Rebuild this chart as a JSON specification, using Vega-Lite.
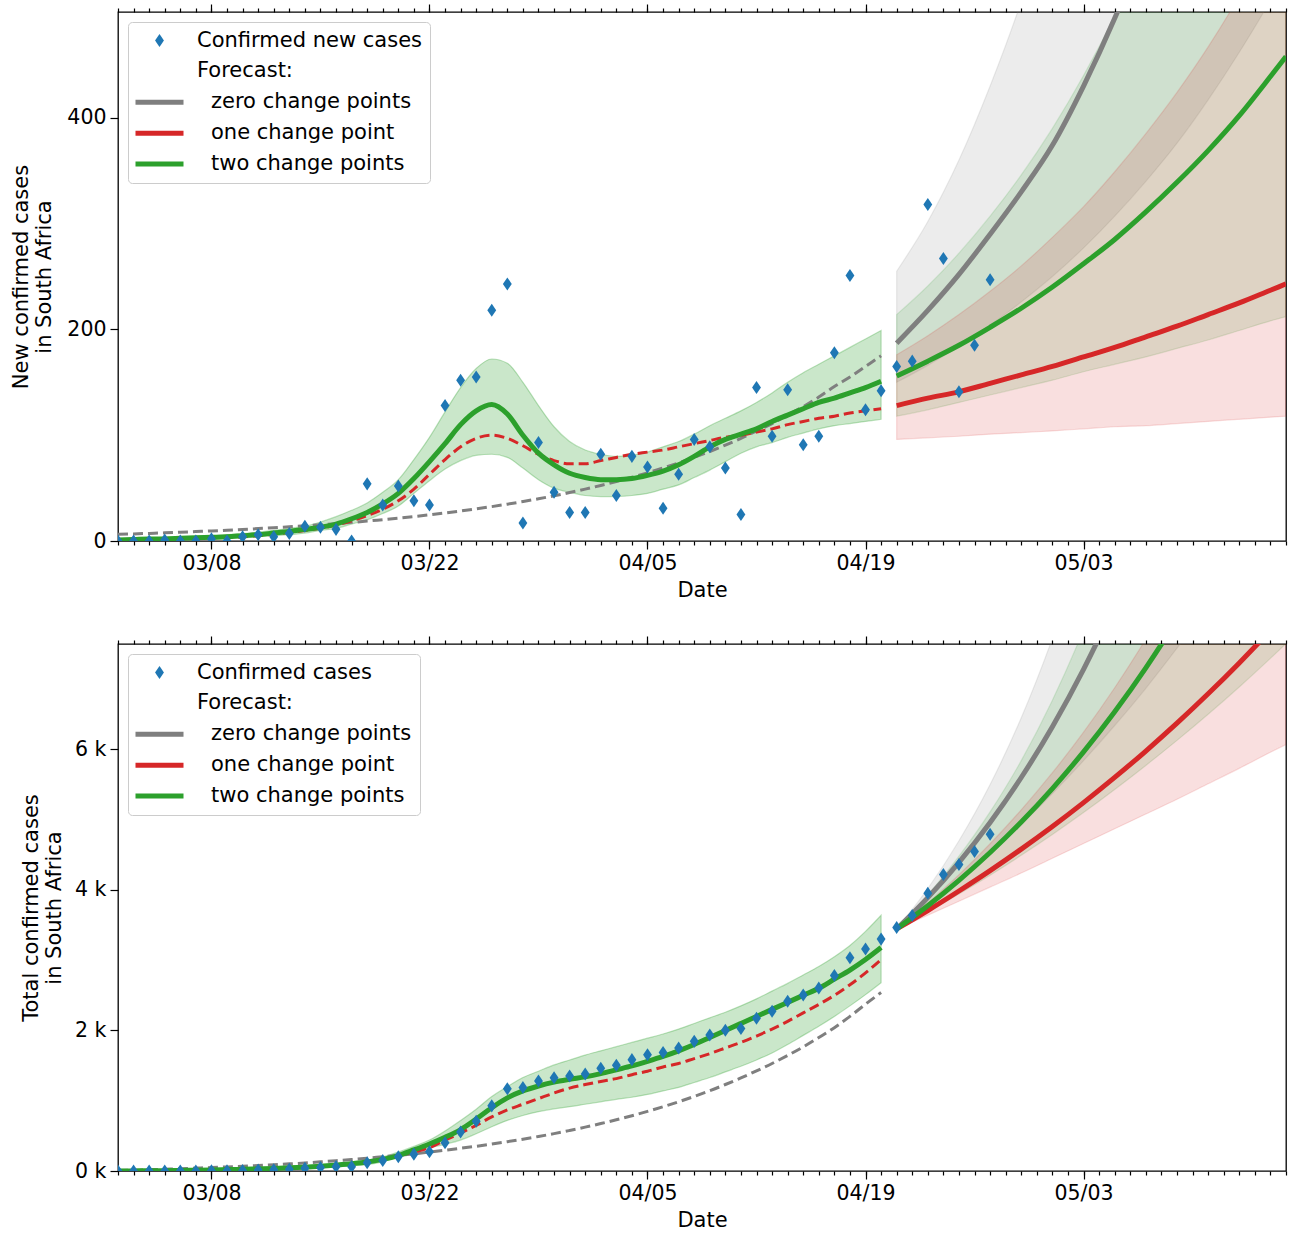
{
  "$schema": "https://vega.github.io/schema/vega-lite/v6.json",
  "padding": {"left": 10, "top": 2, "right": 5, "bottom": 5},
  "config": {
    "font": "DejaVu Sans",
    "view": {"stroke": "black", "strokeWidth": 1.3},
    "axis": {"labelFont": "DejaVu Sans", "titleFont": "DejaVu Sans", "labelFontSize": 20.5, "titleFontSize": 21, "labelColor": "black", "titleColor": "black", "tickColor": "black", "tickWidth": 1.2, "titleFontWeight": "normal", "grid": false, "domain": false},
    "legend": {"orient": "top-left", "offset": 10, "labelFont": "DejaVu Sans", "labelFontSize": 21, "labelColor": "black", "labelLimit": 600, "symbolSize": 2304, "symbolStrokeWidth": 5, "symbolOffset": 13, "labelOffset": 27, "rowPadding": 8.9, "padding": 8, "fillColor": "rgba(255,255,255,0.8)", "strokeColor": "#cccccc", "cornerRadius": 4, "symbolType": "stroke"}
  },
  "datasets": {
    "obsT": [
      {"date":"2020-03-02","v":0},{"date":"2020-03-03","v":0},{"date":"2020-03-04","v":0},{"date":"2020-03-05","v":1},{"date":"2020-03-06","v":0},{"date":"2020-03-07","v":0},{"date":"2020-03-08","v":2},{"date":"2020-03-09","v":0},{"date":"2020-03-10","v":4},{"date":"2020-03-11","v":6},{"date":"2020-03-12","v":4},{"date":"2020-03-13","v":7},{"date":"2020-03-14","v":14},{"date":"2020-03-15","v":13},{"date":"2020-03-16","v":11},{"date":"2020-03-17","v":0},{"date":"2020-03-18","v":54},{"date":"2020-03-19","v":34},{"date":"2020-03-20","v":52},{"date":"2020-03-21","v":38},{"date":"2020-03-22","v":34},{"date":"2020-03-23","v":128},{"date":"2020-03-24","v":152},{"date":"2020-03-25","v":155},{"date":"2020-03-26","v":218},{"date":"2020-03-27","v":243},{"date":"2020-03-28","v":17},{"date":"2020-03-29","v":93},{"date":"2020-03-30","v":46},{"date":"2020-03-31","v":27},{"date":"2020-04-01","v":27},{"date":"2020-04-02","v":82},{"date":"2020-04-03","v":43},{"date":"2020-04-04","v":80},{"date":"2020-04-05","v":70},{"date":"2020-04-06","v":31},{"date":"2020-04-07","v":63},{"date":"2020-04-08","v":96},{"date":"2020-04-09","v":89},{"date":"2020-04-10","v":69},{"date":"2020-04-11","v":25},{"date":"2020-04-12","v":145},{"date":"2020-04-13","v":99},{"date":"2020-04-14","v":143},{"date":"2020-04-15","v":91},{"date":"2020-04-16","v":99},{"date":"2020-04-17","v":178},{"date":"2020-04-18","v":251},{"date":"2020-04-19","v":124},{"date":"2020-04-20","v":142},{"date":"2020-04-21","v":165},{"date":"2020-04-22","v":170},{"date":"2020-04-23","v":318},{"date":"2020-04-24","v":267},{"date":"2020-04-25","v":141},{"date":"2020-04-26","v":185},{"date":"2020-04-27","v":247}
    ],
    "obsB": [
      {"date":"2020-03-02","v":0},{"date":"2020-03-03","v":0},{"date":"2020-03-04","v":0},{"date":"2020-03-05","v":1},{"date":"2020-03-06","v":1},{"date":"2020-03-07","v":1},{"date":"2020-03-08","v":3},{"date":"2020-03-09","v":3},{"date":"2020-03-10","v":7},{"date":"2020-03-11","v":13},{"date":"2020-03-12","v":17},{"date":"2020-03-13","v":24},{"date":"2020-03-14","v":38},{"date":"2020-03-15","v":51},{"date":"2020-03-16","v":62},{"date":"2020-03-17","v":62},{"date":"2020-03-18","v":116},{"date":"2020-03-19","v":150},{"date":"2020-03-20","v":202},{"date":"2020-03-21","v":240},{"date":"2020-03-22","v":274},{"date":"2020-03-23","v":402},{"date":"2020-03-24","v":554},{"date":"2020-03-25","v":709},{"date":"2020-03-26","v":927},{"date":"2020-03-27","v":1170},{"date":"2020-03-28","v":1187},{"date":"2020-03-29","v":1280},{"date":"2020-03-30","v":1326},{"date":"2020-03-31","v":1353},{"date":"2020-04-01","v":1380},{"date":"2020-04-02","v":1462},{"date":"2020-04-03","v":1505},{"date":"2020-04-04","v":1585},{"date":"2020-04-05","v":1655},{"date":"2020-04-06","v":1686},{"date":"2020-04-07","v":1749},{"date":"2020-04-08","v":1845},{"date":"2020-04-09","v":1934},{"date":"2020-04-10","v":2003},{"date":"2020-04-11","v":2028},{"date":"2020-04-12","v":2173},{"date":"2020-04-13","v":2272},{"date":"2020-04-14","v":2415},{"date":"2020-04-15","v":2506},{"date":"2020-04-16","v":2605},{"date":"2020-04-17","v":2783},{"date":"2020-04-18","v":3034},{"date":"2020-04-19","v":3158},{"date":"2020-04-20","v":3300},{"date":"2020-04-21","v":3465},{"date":"2020-04-22","v":3635},{"date":"2020-04-23","v":3953},{"date":"2020-04-24","v":4220},{"date":"2020-04-25","v":4361},{"date":"2020-04-26","v":4546},{"date":"2020-04-27","v":4793}
    ],
    "fitT": [
      {"date":"2020-03-02","g2":1,"lo":0,"hi":2,"r1":1,"g0":6.3},
      {"date":"2020-03-03","g2":1.5,"lo":0.5,"hi":2.5,"r1":1.3,"g0":6.7},
      {"date":"2020-03-04","g2":2,"lo":1,"hi":3,"r1":1.6,"g0":7.2},
      {"date":"2020-03-05","g2":2,"lo":1,"hi":3.5,"r1":1.9,"g0":7.7},
      {"date":"2020-03-06","g2":2.5,"lo":1.5,"hi":4,"r1":2.2,"g0":8.3},
      {"date":"2020-03-07","g2":3,"lo":1.5,"hi":4.5,"r1":2.5,"g0":8.9},
      {"date":"2020-03-08","g2":3.5,"lo":2,"hi":5,"r1":3,"g0":9.5},
      {"date":"2020-03-09","g2":4,"lo":2.5,"hi":6,"r1":3.5,"g0":10.2},
      {"date":"2020-03-10","g2":5,"lo":3,"hi":7,"r1":4,"g0":10.9},
      {"date":"2020-03-11","g2":6,"lo":4,"hi":8.5,"r1":5,"g0":11.7},
      {"date":"2020-03-12","g2":7.5,"lo":5,"hi":10,"r1":6.5,"g0":12.5},
      {"date":"2020-03-13","g2":9,"lo":6,"hi":12,"r1":8,"g0":13.4},
      {"date":"2020-03-14","g2":11,"lo":7.5,"hi":14,"r1":10,"g0":14.3},
      {"date":"2020-03-15","g2":13,"lo":10,"hi":18,"r1":12,"g0":15.3},
      {"date":"2020-03-16","g2":16,"lo":12,"hi":23,"r1":15,"g0":16.4},
      {"date":"2020-03-17","g2":21,"lo":16,"hi":29,"r1":19,"g0":17.6},
      {"date":"2020-03-18","g2":27,"lo":20,"hi":36,"r1":24,"g0":18.8},
      {"date":"2020-03-19","g2":35,"lo":26,"hi":46,"r1":30,"g0":20.2},
      {"date":"2020-03-20","g2":45,"lo":33,"hi":58,"r1":38,"g0":21.6},
      {"date":"2020-03-21","g2":59,"lo":45,"hi":77,"r1":49,"g0":23.1},
      {"date":"2020-03-22","g2":75,"lo":57,"hi":98,"r1":63,"g0":24.7},
      {"date":"2020-03-23","g2":92,"lo":68,"hi":122,"r1":77,"g0":26.5},
      {"date":"2020-03-24","g2":110,"lo":76,"hi":145,"r1":89,"g0":28.4},
      {"date":"2020-03-25","g2":123,"lo":81,"hi":163,"r1":97,"g0":30.4},
      {"date":"2020-03-26","g2":129,"lo":82,"hi":172,"r1":100,"g0":32.5},
      {"date":"2020-03-27","g2":120,"lo":79,"hi":168,"r1":97,"g0":34.8},
      {"date":"2020-03-28","g2":100,"lo":69,"hi":150,"r1":90,"g0":37.3},
      {"date":"2020-03-29","g2":83,"lo":58,"hi":128,"r1":82,"g0":39.9},
      {"date":"2020-03-30","g2":72,"lo":50,"hi":108,"r1":76,"g0":42.7},
      {"date":"2020-03-31","g2":64,"lo":46,"hi":94,"r1":73,"g0":45.8},
      {"date":"2020-04-01","g2":60,"lo":43,"hi":86,"r1":73,"g0":49},
      {"date":"2020-04-02","g2":58,"lo":42,"hi":82,"r1":76,"g0":52.5},
      {"date":"2020-04-03","g2":58,"lo":42,"hi":80,"r1":79,"g0":56.2},
      {"date":"2020-04-04","g2":59,"lo":43,"hi":81,"r1":82,"g0":60.2},
      {"date":"2020-04-05","g2":62,"lo":45,"hi":84,"r1":84,"g0":64.4},
      {"date":"2020-04-06","g2":66,"lo":49,"hi":89,"r1":86,"g0":69},
      {"date":"2020-04-07","g2":72,"lo":53,"hi":94,"r1":89,"g0":73.8},
      {"date":"2020-04-08","g2":80,"lo":60,"hi":101,"r1":92,"g0":79},
      {"date":"2020-04-09","g2":89,"lo":67,"hi":109,"r1":95,"g0":84.6},
      {"date":"2020-04-10","g2":96,"lo":75,"hi":116,"r1":98,"g0":90.6},
      {"date":"2020-04-11","g2":101,"lo":83,"hi":123,"r1":100,"g0":97},
      {"date":"2020-04-12","g2":106,"lo":89,"hi":131,"r1":103,"g0":104},
      {"date":"2020-04-13","g2":113,"lo":93,"hi":140,"r1":106,"g0":111},
      {"date":"2020-04-14","g2":119,"lo":98,"hi":150,"r1":110,"g0":119},
      {"date":"2020-04-15","g2":125,"lo":102,"hi":159,"r1":113,"g0":127},
      {"date":"2020-04-16","g2":131,"lo":106,"hi":167,"r1":116,"g0":136},
      {"date":"2020-04-17","g2":135,"lo":109,"hi":175,"r1":118,"g0":146},
      {"date":"2020-04-18","g2":140,"lo":111,"hi":183,"r1":121,"g0":155},
      {"date":"2020-04-19","g2":145,"lo":113,"hi":191,"r1":123,"g0":165},
      {"date":"2020-04-20","g2":151,"lo":115,"hi":199,"r1":125,"g0":175}
    ],
    "fitB": [
      {"date":"2020-03-02","g2":0,"lo":0,"hi":2,"r1":0,"g0":6},
      {"date":"2020-03-03","g2":1,"lo":0,"hi":4,"r1":1,"g0":12},
      {"date":"2020-03-04","g2":3,"lo":1,"hi":7,"r1":2,"g0":19},
      {"date":"2020-03-05","g2":5,"lo":2,"hi":10,"r1":3,"g0":26},
      {"date":"2020-03-06","g2":8,"lo":3,"hi":14,"r1":5,"g0":33},
      {"date":"2020-03-07","g2":11,"lo":5,"hi":18,"r1":7,"g0":41},
      {"date":"2020-03-08","g2":15,"lo":7,"hi":23,"r1":10,"g0":49},
      {"date":"2020-03-09","g2":20,"lo":10,"hi":29,"r1":14,"g0":58},
      {"date":"2020-03-10","g2":25,"lo":13,"hi":36,"r1":19,"g0":67},
      {"date":"2020-03-11","g2":31,"lo":18,"hi":43,"r1":26,"g0":78},
      {"date":"2020-03-12","g2":37,"lo":24,"hi":52,"r1":34,"g0":90},
      {"date":"2020-03-13","g2":45,"lo":30,"hi":62,"r1":43,"g0":102},
      {"date":"2020-03-14","g2":55,"lo":38,"hi":75,"r1":53,"g0":114},
      {"date":"2020-03-15","g2":68,"lo":48,"hi":88,"r1":67,"g0":130},
      {"date":"2020-03-16","g2":85,"lo":60,"hi":105,"r1":83,"g0":146},
      {"date":"2020-03-17","g2":104,"lo":74,"hi":126,"r1":104,"g0":164},
      {"date":"2020-03-18","g2":128,"lo":90,"hi":150,"r1":130,"g0":183},
      {"date":"2020-03-19","g2":165,"lo":130,"hi":200,"r1":170,"g0":203},
      {"date":"2020-03-20","g2":220,"lo":200,"hi":270,"r1":220,"g0":223},
      {"date":"2020-03-21","g2":300,"lo":260,"hi":350,"r1":270,"g0":245},
      {"date":"2020-03-22","g2":385,"lo":330,"hi":440,"r1":330,"g0":269},
      {"date":"2020-03-23","g2":480,"lo":380,"hi":570,"r1":440,"g0":295},
      {"date":"2020-03-24","g2":590,"lo":440,"hi":720,"r1":540,"g0":323},
      {"date":"2020-03-25","g2":740,"lo":530,"hi":880,"r1":650,"g0":352},
      {"date":"2020-03-26","g2":900,"lo":630,"hi":1060,"r1":770,"g0":383},
      {"date":"2020-03-27","g2":1040,"lo":720,"hi":1200,"r1":870,"g0":417},
      {"date":"2020-03-28","g2":1140,"lo":790,"hi":1330,"r1":950,"g0":453},
      {"date":"2020-03-29","g2":1210,"lo":845,"hi":1420,"r1":1030,"g0":491},
      {"date":"2020-03-30","g2":1265,"lo":885,"hi":1510,"r1":1110,"g0":532},
      {"date":"2020-03-31","g2":1305,"lo":915,"hi":1580,"r1":1180,"g0":577},
      {"date":"2020-04-01","g2":1340,"lo":950,"hi":1650,"r1":1230,"g0":624},
      {"date":"2020-04-02","g2":1385,"lo":985,"hi":1710,"r1":1275,"g0":675},
      {"date":"2020-04-03","g2":1440,"lo":1020,"hi":1770,"r1":1315,"g0":729},
      {"date":"2020-04-04","g2":1495,"lo":1050,"hi":1830,"r1":1370,"g0":786},
      {"date":"2020-04-05","g2":1560,"lo":1090,"hi":1890,"r1":1420,"g0":848},
      {"date":"2020-04-06","g2":1630,"lo":1140,"hi":1950,"r1":1480,"g0":914},
      {"date":"2020-04-07","g2":1710,"lo":1190,"hi":2020,"r1":1530,"g0":985},
      {"date":"2020-04-08","g2":1800,"lo":1260,"hi":2100,"r1":1600,"g0":1061},
      {"date":"2020-04-09","g2":1900,"lo":1330,"hi":2180,"r1":1670,"g0":1142},
      {"date":"2020-04-10","g2":2000,"lo":1410,"hi":2260,"r1":1750,"g0":1231},
      {"date":"2020-04-11","g2":2100,"lo":1490,"hi":2350,"r1":1830,"g0":1325},
      {"date":"2020-04-12","g2":2200,"lo":1580,"hi":2450,"r1":1920,"g0":1425},
      {"date":"2020-04-13","g2":2300,"lo":1680,"hi":2560,"r1":2020,"g0":1530},
      {"date":"2020-04-14","g2":2400,"lo":1800,"hi":2670,"r1":2130,"g0":1645},
      {"date":"2020-04-15","g2":2500,"lo":1930,"hi":2790,"r1":2250,"g0":1766},
      {"date":"2020-04-16","g2":2600,"lo":2060,"hi":2910,"r1":2370,"g0":1900},
      {"date":"2020-04-17","g2":2730,"lo":2200,"hi":3050,"r1":2500,"g0":2040},
      {"date":"2020-04-18","g2":2860,"lo":2350,"hi":3210,"r1":2650,"g0":2200},
      {"date":"2020-04-19","g2":3010,"lo":2510,"hi":3410,"r1":2820,"g0":2374},
      {"date":"2020-04-20","g2":3180,"lo":2680,"hi":3640,"r1":3010,"g0":2540}
    ],
    "fcT": [
      {"date":"2020-04-21","g0":187,"g0lo":150,"g0hi":255,"r1":128,"r1lo":96,"r1hi":176,"g2":156,"g2lo":118,"g2hi":214},
      {"date":"2020-04-23","g0":218,"g0lo":166,"g0hi":302,"r1":135,"r1lo":97.5,"r1hi":194,"g2":170,"g2lo":124,"g2hi":241},
      {"date":"2020-04-25","g0":252,"g0lo":184,"g0hi":360,"r1":141,"r1lo":99,"r1hi":214,"g2":185,"g2lo":131,"g2hi":272},
      {"date":"2020-04-27","g0":290,"g0lo":204,"g0hi":430,"r1":149,"r1lo":101,"r1hi":236,"g2":202,"g2lo":138,"g2hi":307},
      {"date":"2020-04-29","g0":330,"g0lo":226,"g0hi":510,"r1":157,"r1lo":102.5,"r1hi":260,"g2":220,"g2lo":145,"g2hi":346},
      {"date":"2020-05-01","g0":374,"g0lo":250,"g0hi":604,"r1":165,"r1lo":104,"r1hi":287,"g2":240,"g2lo":152,"g2hi":390},
      {"date":"2020-05-03","g0":430,"g0lo":277,"g0hi":715,"r1":174,"r1lo":106,"r1hi":316,"g2":262,"g2lo":160,"g2hi":440},
      {"date":"2020-05-05","g0":494,"g0lo":307,"g0hi":846,"r1":183,"r1lo":108,"r1hi":349,"g2":285,"g2lo":167,"g2hi":496},
      {"date":"2020-05-07","g0":567,"g0lo":340,"g0hi":1000,"r1":193,"r1lo":109,"r1hi":385,"g2":311,"g2lo":174,"g2hi":559},
      {"date":"2020-05-09","g0":651,"g0lo":376,"g0hi":1185,"r1":203,"r1lo":111,"r1hi":424,"g2":339,"g2lo":182,"g2hi":631},
      {"date":"2020-05-11","g0":748,"g0lo":417,"g0hi":1400,"r1":214,"r1lo":113,"r1hi":467,"g2":369,"g2lo":190,"g2hi":711},
      {"date":"2020-05-13","g0":859,"g0lo":462,"g0hi":1660,"r1":225,"r1lo":115,"r1hi":515,"g2":402,"g2lo":199,"g2hi":802},
      {"date":"2020-05-15","g0":987,"g0lo":511,"g0hi":1960,"r1":237,"r1lo":117,"r1hi":568,"g2":439,"g2lo":208,"g2hi":904},
      {"date":"2020-05-16","g0":1058,"g0lo":538,"g0hi":2130,"r1":243,"r1lo":118,"r1hi":596,"g2":458,"g2lo":212,"g2hi":960}
    ],
    "fcB": [
      {"date":"2020-04-21","g0":3445,"g0lo":3445,"g0hi":3445,"r1":3445,"r1lo":3445,"r1hi":3445,"g2":3445,"g2lo":3445,"g2hi":3445},
      {"date":"2020-04-23","g0":3890,"g0lo":3780,"g0hi":4020,"r1":3707,"r1lo":3640,"r1hi":3813,"g2":3775,"g2lo":3687,"g2hi":3930},
      {"date":"2020-04-25","g0":4392,"g0lo":4140,"g0hi":4700,"r1":3985,"r1lo":3840,"r1hi":4216,"g2":4137,"g2lo":3942,"g2hi":4480},
      {"date":"2020-04-27","g0":4960,"g0lo":4520,"g0hi":5500,"r1":4275,"r1lo":4040,"r1hi":4657,"g2":4533,"g2lo":4210,"g2hi":5110},
      {"date":"2020-04-29","g0":5600,"g0lo":4930,"g0hi":6450,"r1":4581,"r1lo":4240,"r1hi":5140,"g2":4967,"g2lo":4493,"g2hi":5840},
      {"date":"2020-05-01","g0":6323,"g0lo":5370,"g0hi":7580,"r1":4903,"r1lo":4450,"r1hi":5668,"g2":5443,"g2lo":4790,"g2hi":6700},
      {"date":"2020-05-03","g0":7140,"g0lo":5840,"g0hi":8900,"r1":5243,"r1lo":4660,"r1hi":6245,"g2":5964,"g2lo":5102,"g2hi":7700},
      {"date":"2020-05-05","g0":8062,"g0lo":6340,"g0hi":10450,"r1":5601,"r1lo":4870,"r1hi":6877,"g2":6535,"g2lo":5430,"g2hi":8850},
      {"date":"2020-05-07","g0":9103,"g0lo":6870,"g0hi":12250,"r1":5977,"r1lo":5080,"r1hi":7569,"g2":7161,"g2lo":5772,"g2hi":10150},
      {"date":"2020-05-09","g0":10280,"g0lo":7440,"g0hi":14400,"r1":6373,"r1lo":5290,"r1hi":8325,"g2":7847,"g2lo":6128,"g2hi":11650},
      {"date":"2020-05-11","g0":11600,"g0lo":8040,"g0hi":16900,"r1":6791,"r1lo":5510,"r1hi":9154,"g2":8600,"g2lo":6500,"g2hi":13400},
      {"date":"2020-05-13","g0":13100,"g0lo":8680,"g0hi":19800,"r1":7231,"r1lo":5730,"r1hi":10059,"g2":9420,"g2lo":6889,"g2hi":15400},
      {"date":"2020-05-15","g0":14800,"g0lo":9360,"g0hi":23300,"r1":7695,"r1lo":5960,"r1hi":11051,"g2":10320,"g2lo":7296,"g2hi":17700},
      {"date":"2020-05-16","g0":15700,"g0lo":9720,"g0hi":25200,"r1":7936,"r1lo":6070,"r1hi":11581,"g2":10800,"g2lo":7506,"g2hi":19000}
    ]
  },
  "spacing": 32,
  "resolve": {"scale": {"color": "independent"}, "legend": {"color": "independent"}},
  "vconcat": [
    {
      "width": 1168, "height": 529,
      "resolve": {"axis": {"x": "independent", "y": "independent"}},
      "layer": [
        {"data": {"name": "fitT"}, "mark": {"type": "area", "clip": true, "interpolate": "monotone", "fill": "#2ca02c", "fillOpacity": 0.25, "stroke": "#2ca02c", "strokeOpacity": 0.3, "strokeWidth": 1.2},
         "encoding": {
          "x": {"field": "date", "type": "temporal", "scale": {"type": "utc", "domain": [{"year":2020,"month":3,"date":2,"utc":true},{"year":2020,"month":5,"date":16,"utc":true}]}, "axis": {"orient": "bottom", "tickCount": {"interval": "day", "step": 1}, "labels": false, "tickSize": 4, "title": null}},
          "y": {"field": "lo", "type": "quantitative", "scale": {"domain": [0, 500], "nice": false}, "axis": {"orient": "left", "values": [0, 200, 400], "tickSize": 8, "labelPadding": 4, "title": ["New confirmed cases", "in South Africa"], "titlePadding": 12}},
          "y2": {"field": "hi"}}},
        {"data": {"name": "fcT"}, "mark": {"type": "area", "clip": true, "interpolate": "monotone", "fill": "#7f7f7f", "fillOpacity": 0.15, "stroke": "#7f7f7f", "strokeOpacity": 0.15, "strokeWidth": 1.2},
         "encoding": {
          "x": {"field": "date", "type": "temporal", "axis": {"orient": "top", "tickCount": {"interval": "day", "step": 1}, "labels": false, "tickSize": 4, "title": null}},
          "y": {"field": "g0lo", "type": "quantitative", "axis": null},
          "y2": {"field": "g0hi"}}},
        {"data": {"name": "fcT"}, "mark": {"type": "area", "clip": true, "interpolate": "monotone", "fill": "#2ca02c", "fillOpacity": 0.15, "stroke": "#2ca02c", "strokeOpacity": 0.15, "strokeWidth": 1.2},
         "encoding": {
          "x": {"field": "date", "type": "temporal", "axis": {"orient": "bottom", "values": [{"year":2020,"month":3,"date":8,"utc":true},{"year":2020,"month":3,"date":22,"utc":true},{"year":2020,"month":4,"date":5,"utc":true},{"year":2020,"month":4,"date":19,"utc":true},{"year":2020,"month":5,"date":3,"utc":true}], "format": "%m/%d", "tickSize": 8, "labelPadding": 4, "title": "Date", "titlePadding": 6}},
          "y": {"field": "g2lo", "type": "quantitative", "axis": null},
          "y2": {"field": "g2hi"}}},
        {"data": {"name": "fcT"}, "mark": {"type": "area", "clip": true, "interpolate": "monotone", "fill": "#d62728", "fillOpacity": 0.15, "stroke": "#d62728", "strokeOpacity": 0.15, "strokeWidth": 1.2},
         "encoding": {
          "x": {"field": "date", "type": "temporal", "axis": {"orient": "top", "values": [{"year":2020,"month":3,"date":8,"utc":true},{"year":2020,"month":3,"date":22,"utc":true},{"year":2020,"month":4,"date":5,"utc":true},{"year":2020,"month":4,"date":19,"utc":true},{"year":2020,"month":5,"date":3,"utc":true}], "labels": false, "tickSize": 8, "title": null}},
          "y": {"field": "r1lo", "type": "quantitative", "axis": null},
          "y2": {"field": "r1hi"}}},
        {"data": {"name": "fitT"}, "mark": {"type": "line", "clip": true, "interpolate": "monotone", "color": "#7f7f7f", "strokeWidth": 3, "strokeDash": [10, 5]},
         "encoding": {"x": {"field": "date", "type": "temporal", "axis": null}, "y": {"field": "g0", "type": "quantitative", "axis": null}}},
        {"data": {"name": "fitT"}, "mark": {"type": "line", "clip": true, "interpolate": "monotone", "color": "#d62728", "strokeWidth": 3, "strokeDash": [10, 5]},
         "encoding": {"x": {"field": "date", "type": "temporal", "axis": null}, "y": {"field": "r1", "type": "quantitative", "axis": null}}},
        {"data": {"name": "fitT"}, "mark": {"type": "line", "clip": true, "interpolate": "monotone", "color": "#2ca02c", "strokeWidth": 5},
         "encoding": {"x": {"field": "date", "type": "temporal", "axis": null}, "y": {"field": "g2", "type": "quantitative", "axis": null}}},
        {"data": {"name": "fcT"}, "mark": {"type": "line", "clip": true, "interpolate": "monotone", "strokeWidth": 5},
         "encoding": {"x": {"field": "date", "type": "temporal", "axis": null}, "y": {"field": "g0", "type": "quantitative", "axis": null},
          "color": {"datum": "zero change points", "type": "nominal", "scale": {"domain": ["Confirmed new cases", "Forecast:", "zero change points", "one change point", "two change points"], "range": ["#1f77b4", "rgba(0,0,0,0)", "#7f7f7f", "#d62728", "#2ca02c"]},
            "legend": {"title": null, "encode": {"labels": {"update": {"dx": {"signal": "datum.index >= 2 ? 14 : 0"}}}, "symbols": {"update": {"shape": {"signal": "datum.index === 0 ? 'M0,-1L0.68,0L0,1L-0.68,0Z' : 'stroke'"}, "size": {"signal": "datum.index === 0 ? 170 : 2304"}, "fill": {"signal": "datum.index === 0 ? '#1f77b4' : 'rgba(0,0,0,0)'"}, "stroke": {"signal": "['#1f77b4','rgba(0,0,0,0)','#7f7f7f','#d62728','#2ca02c'][datum.index]"}, "strokeWidth": {"signal": "datum.index === 0 ? 0 : 5"}, "opacity": {"value": 1}, "fillOpacity": {"value": 1}, "strokeOpacity": {"value": 1}}}}}}}},
        {"data": {"name": "fcT"}, "mark": {"type": "line", "clip": true, "interpolate": "monotone", "strokeWidth": 5},
         "encoding": {"x": {"field": "date", "type": "temporal", "axis": null}, "y": {"field": "r1", "type": "quantitative", "axis": null},
          "color": {"datum": "one change point", "type": "nominal", "scale": {"domain": ["Confirmed new cases", "Forecast:", "zero change points", "one change point", "two change points"], "range": ["#1f77b4", "rgba(0,0,0,0)", "#7f7f7f", "#d62728", "#2ca02c"]},
            "legend": {"title": null, "encode": {"labels": {"update": {"dx": {"signal": "datum.index >= 2 ? 14 : 0"}}}, "symbols": {"update": {"shape": {"signal": "datum.index === 0 ? 'M0,-1L0.68,0L0,1L-0.68,0Z' : 'stroke'"}, "size": {"signal": "datum.index === 0 ? 170 : 2304"}, "fill": {"signal": "datum.index === 0 ? '#1f77b4' : 'rgba(0,0,0,0)'"}, "stroke": {"signal": "['#1f77b4','rgba(0,0,0,0)','#7f7f7f','#d62728','#2ca02c'][datum.index]"}, "strokeWidth": {"signal": "datum.index === 0 ? 0 : 5"}, "opacity": {"value": 1}, "fillOpacity": {"value": 1}, "strokeOpacity": {"value": 1}}}}}}}},
        {"data": {"name": "fcT"}, "mark": {"type": "line", "clip": true, "interpolate": "monotone", "strokeWidth": 5},
         "encoding": {"x": {"field": "date", "type": "temporal", "axis": null}, "y": {"field": "g2", "type": "quantitative", "axis": null},
          "color": {"datum": "two change points", "type": "nominal", "scale": {"domain": ["Confirmed new cases", "Forecast:", "zero change points", "one change point", "two change points"], "range": ["#1f77b4", "rgba(0,0,0,0)", "#7f7f7f", "#d62728", "#2ca02c"]},
            "legend": {"title": null, "encode": {"labels": {"update": {"dx": {"signal": "datum.index >= 2 ? 14 : 0"}}}, "symbols": {"update": {"shape": {"signal": "datum.index === 0 ? 'M0,-1L0.68,0L0,1L-0.68,0Z' : 'stroke'"}, "size": {"signal": "datum.index === 0 ? 170 : 2304"}, "fill": {"signal": "datum.index === 0 ? '#1f77b4' : 'rgba(0,0,0,0)'"}, "stroke": {"signal": "['#1f77b4','rgba(0,0,0,0)','#7f7f7f','#d62728','#2ca02c'][datum.index]"}, "strokeWidth": {"signal": "datum.index === 0 ? 0 : 5"}, "opacity": {"value": 1}, "fillOpacity": {"value": 1}, "strokeOpacity": {"value": 1}}}}}}}},
        {"data": {"name": "obsT"}, "mark": {"type": "point", "clip": true, "filled": true, "opacity": 1, "size": 170, "shape": "M0,-1L0.68,0L0,1L-0.68,0Z"},
         "encoding": {"x": {"field": "date", "type": "temporal", "axis": null}, "y": {"field": "v", "type": "quantitative", "axis": null},
          "color": {"datum": "Confirmed new cases", "type": "nominal", "scale": {"domain": ["Confirmed new cases", "Forecast:", "zero change points", "one change point", "two change points"], "range": ["#1f77b4", "rgba(0,0,0,0)", "#7f7f7f", "#d62728", "#2ca02c"]},
            "legend": {"title": null, "encode": {"labels": {"update": {"dx": {"signal": "datum.index >= 2 ? 14 : 0"}}}, "symbols": {"update": {"shape": {"signal": "datum.index === 0 ? 'M0,-1L0.68,0L0,1L-0.68,0Z' : 'stroke'"}, "size": {"signal": "datum.index === 0 ? 170 : 2304"}, "fill": {"signal": "datum.index === 0 ? '#1f77b4' : 'rgba(0,0,0,0)'"}, "stroke": {"signal": "['#1f77b4','rgba(0,0,0,0)','#7f7f7f','#d62728','#2ca02c'][datum.index]"}, "strokeWidth": {"signal": "datum.index === 0 ? 0 : 5"}, "opacity": {"value": 1}, "fillOpacity": {"value": 1}, "strokeOpacity": {"value": 1}}}}}}}}
      ]
    },
    {
      "width": 1168, "height": 527,
      "resolve": {"axis": {"x": "independent", "y": "independent"}},
      "layer": [
        {"data": {"name": "fitB"}, "mark": {"type": "area", "clip": true, "interpolate": "monotone", "fill": "#2ca02c", "fillOpacity": 0.25, "stroke": "#2ca02c", "strokeOpacity": 0.3, "strokeWidth": 1.2},
         "encoding": {
          "x": {"field": "date", "type": "temporal", "scale": {"type": "utc", "domain": [{"year":2020,"month":3,"date":2,"utc":true},{"year":2020,"month":5,"date":16,"utc":true}]}, "axis": {"orient": "bottom", "tickCount": {"interval": "day", "step": 1}, "labels": false, "tickSize": 4, "title": null}},
          "y": {"field": "lo", "type": "quantitative", "scale": {"domain": [0, 7500], "nice": false}, "axis": {"orient": "left", "values": [0, 2000, 4000, 6000], "labelExpr": "format(datum.value / 1000, 'd') + ' k'", "tickSize": 8, "labelPadding": 4, "title": ["Total confirmed cases", "in South Africa"], "titlePadding": 10}},
          "y2": {"field": "hi"}}},
        {"data": {"name": "fcB"}, "mark": {"type": "area", "clip": true, "interpolate": "monotone", "fill": "#7f7f7f", "fillOpacity": 0.15, "stroke": "#7f7f7f", "strokeOpacity": 0.15, "strokeWidth": 1.2},
         "encoding": {
          "x": {"field": "date", "type": "temporal", "axis": {"orient": "top", "tickCount": {"interval": "day", "step": 1}, "labels": false, "tickSize": 4, "title": null}},
          "y": {"field": "g0lo", "type": "quantitative", "axis": null},
          "y2": {"field": "g0hi"}}},
        {"data": {"name": "fcB"}, "mark": {"type": "area", "clip": true, "interpolate": "monotone", "fill": "#2ca02c", "fillOpacity": 0.15, "stroke": "#2ca02c", "strokeOpacity": 0.15, "strokeWidth": 1.2},
         "encoding": {
          "x": {"field": "date", "type": "temporal", "axis": {"orient": "bottom", "values": [{"year":2020,"month":3,"date":8,"utc":true},{"year":2020,"month":3,"date":22,"utc":true},{"year":2020,"month":4,"date":5,"utc":true},{"year":2020,"month":4,"date":19,"utc":true},{"year":2020,"month":5,"date":3,"utc":true}], "format": "%m/%d", "tickSize": 8, "labelPadding": 4, "title": "Date", "titlePadding": 6}},
          "y": {"field": "g2lo", "type": "quantitative", "axis": null},
          "y2": {"field": "g2hi"}}},
        {"data": {"name": "fcB"}, "mark": {"type": "area", "clip": true, "interpolate": "monotone", "fill": "#d62728", "fillOpacity": 0.15, "stroke": "#d62728", "strokeOpacity": 0.15, "strokeWidth": 1.2},
         "encoding": {
          "x": {"field": "date", "type": "temporal", "axis": {"orient": "top", "values": [{"year":2020,"month":3,"date":8,"utc":true},{"year":2020,"month":3,"date":22,"utc":true},{"year":2020,"month":4,"date":5,"utc":true},{"year":2020,"month":4,"date":19,"utc":true},{"year":2020,"month":5,"date":3,"utc":true}], "labels": false, "tickSize": 8, "title": null}},
          "y": {"field": "r1lo", "type": "quantitative", "axis": null},
          "y2": {"field": "r1hi"}}},
        {"data": {"name": "fitB"}, "mark": {"type": "line", "clip": true, "interpolate": "monotone", "color": "#7f7f7f", "strokeWidth": 3, "strokeDash": [10, 5]},
         "encoding": {"x": {"field": "date", "type": "temporal", "axis": null}, "y": {"field": "g0", "type": "quantitative", "axis": null}}},
        {"data": {"name": "fitB"}, "mark": {"type": "line", "clip": true, "interpolate": "monotone", "color": "#d62728", "strokeWidth": 3, "strokeDash": [10, 5]},
         "encoding": {"x": {"field": "date", "type": "temporal", "axis": null}, "y": {"field": "r1", "type": "quantitative", "axis": null}}},
        {"data": {"name": "fitB"}, "mark": {"type": "line", "clip": true, "interpolate": "monotone", "color": "#2ca02c", "strokeWidth": 5},
         "encoding": {"x": {"field": "date", "type": "temporal", "axis": null}, "y": {"field": "g2", "type": "quantitative", "axis": null}}},
        {"data": {"name": "fcB"}, "mark": {"type": "line", "clip": true, "interpolate": "monotone", "strokeWidth": 5},
         "encoding": {"x": {"field": "date", "type": "temporal", "axis": null}, "y": {"field": "g0", "type": "quantitative", "axis": null},
          "color": {"datum": "zero change points", "type": "nominal", "scale": {"domain": ["Confirmed cases", "Forecast:", "zero change points", "one change point", "two change points"], "range": ["#1f77b4", "rgba(0,0,0,0)", "#7f7f7f", "#d62728", "#2ca02c"]},
            "legend": {"title": null, "encode": {"labels": {"update": {"dx": {"signal": "datum.index >= 2 ? 14 : 0"}}}, "symbols": {"update": {"shape": {"signal": "datum.index === 0 ? 'M0,-1L0.68,0L0,1L-0.68,0Z' : 'stroke'"}, "size": {"signal": "datum.index === 0 ? 170 : 2304"}, "fill": {"signal": "datum.index === 0 ? '#1f77b4' : 'rgba(0,0,0,0)'"}, "stroke": {"signal": "['#1f77b4','rgba(0,0,0,0)','#7f7f7f','#d62728','#2ca02c'][datum.index]"}, "strokeWidth": {"signal": "datum.index === 0 ? 0 : 5"}, "opacity": {"value": 1}, "fillOpacity": {"value": 1}, "strokeOpacity": {"value": 1}}}}}}}},
        {"data": {"name": "fcB"}, "mark": {"type": "line", "clip": true, "interpolate": "monotone", "strokeWidth": 5},
         "encoding": {"x": {"field": "date", "type": "temporal", "axis": null}, "y": {"field": "r1", "type": "quantitative", "axis": null},
          "color": {"datum": "one change point", "type": "nominal", "scale": {"domain": ["Confirmed cases", "Forecast:", "zero change points", "one change point", "two change points"], "range": ["#1f77b4", "rgba(0,0,0,0)", "#7f7f7f", "#d62728", "#2ca02c"]},
            "legend": {"title": null, "encode": {"labels": {"update": {"dx": {"signal": "datum.index >= 2 ? 14 : 0"}}}, "symbols": {"update": {"shape": {"signal": "datum.index === 0 ? 'M0,-1L0.68,0L0,1L-0.68,0Z' : 'stroke'"}, "size": {"signal": "datum.index === 0 ? 170 : 2304"}, "fill": {"signal": "datum.index === 0 ? '#1f77b4' : 'rgba(0,0,0,0)'"}, "stroke": {"signal": "['#1f77b4','rgba(0,0,0,0)','#7f7f7f','#d62728','#2ca02c'][datum.index]"}, "strokeWidth": {"signal": "datum.index === 0 ? 0 : 5"}, "opacity": {"value": 1}, "fillOpacity": {"value": 1}, "strokeOpacity": {"value": 1}}}}}}}},
        {"data": {"name": "fcB"}, "mark": {"type": "line", "clip": true, "interpolate": "monotone", "strokeWidth": 5},
         "encoding": {"x": {"field": "date", "type": "temporal", "axis": null}, "y": {"field": "g2", "type": "quantitative", "axis": null},
          "color": {"datum": "two change points", "type": "nominal", "scale": {"domain": ["Confirmed cases", "Forecast:", "zero change points", "one change point", "two change points"], "range": ["#1f77b4", "rgba(0,0,0,0)", "#7f7f7f", "#d62728", "#2ca02c"]},
            "legend": {"title": null, "encode": {"labels": {"update": {"dx": {"signal": "datum.index >= 2 ? 14 : 0"}}}, "symbols": {"update": {"shape": {"signal": "datum.index === 0 ? 'M0,-1L0.68,0L0,1L-0.68,0Z' : 'stroke'"}, "size": {"signal": "datum.index === 0 ? 170 : 2304"}, "fill": {"signal": "datum.index === 0 ? '#1f77b4' : 'rgba(0,0,0,0)'"}, "stroke": {"signal": "['#1f77b4','rgba(0,0,0,0)','#7f7f7f','#d62728','#2ca02c'][datum.index]"}, "strokeWidth": {"signal": "datum.index === 0 ? 0 : 5"}, "opacity": {"value": 1}, "fillOpacity": {"value": 1}, "strokeOpacity": {"value": 1}}}}}}}},
        {"data": {"name": "obsB"}, "mark": {"type": "point", "clip": true, "filled": true, "opacity": 1, "size": 170, "shape": "M0,-1L0.68,0L0,1L-0.68,0Z"},
         "encoding": {"x": {"field": "date", "type": "temporal", "axis": null}, "y": {"field": "v", "type": "quantitative", "axis": null},
          "color": {"datum": "Confirmed cases", "type": "nominal", "scale": {"domain": ["Confirmed cases", "Forecast:", "zero change points", "one change point", "two change points"], "range": ["#1f77b4", "rgba(0,0,0,0)", "#7f7f7f", "#d62728", "#2ca02c"]},
            "legend": {"title": null, "encode": {"labels": {"update": {"dx": {"signal": "datum.index >= 2 ? 14 : 0"}}}, "symbols": {"update": {"shape": {"signal": "datum.index === 0 ? 'M0,-1L0.68,0L0,1L-0.68,0Z' : 'stroke'"}, "size": {"signal": "datum.index === 0 ? 170 : 2304"}, "fill": {"signal": "datum.index === 0 ? '#1f77b4' : 'rgba(0,0,0,0)'"}, "stroke": {"signal": "['#1f77b4','rgba(0,0,0,0)','#7f7f7f','#d62728','#2ca02c'][datum.index]"}, "strokeWidth": {"signal": "datum.index === 0 ? 0 : 5"}, "opacity": {"value": 1}, "fillOpacity": {"value": 1}, "strokeOpacity": {"value": 1}}}}}}}}
      ]
    }
  ]
}
